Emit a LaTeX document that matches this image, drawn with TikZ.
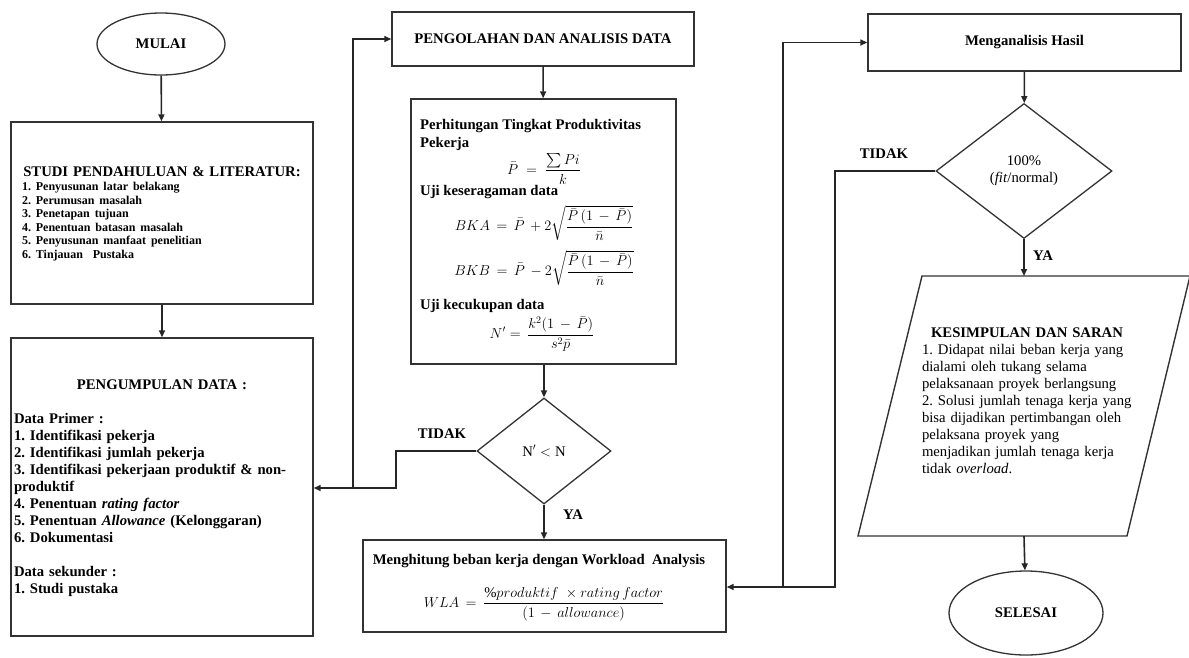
\documentclass[tikz,border=0pt]{standalone}
\usepackage{amsmath}
\usepackage{fontspec}
\setmainfont{Liberation Serif}
\usetikzlibrary{shapes.geometric,arrows.meta}
\frenchspacing
\newcommand\fA{\fontsize{14.7pt}{17pt}\selectfont}
\newcommand\fB{\fontsize{12pt}{13.6pt}\selectfont}
\tikzset{
  box/.style={draw=black!80, line width=1.4pt, rectangle, inner sep=0pt},
  oval/.style={draw=black!80, line width=1.3pt, ellipse, inner sep=0pt, font=\fA\bfseries},
  dia/.style={draw=black!80, line width=1.3pt, diamond, inner sep=0pt, font=\fA, align=center},
  txt/.style={inner sep=0pt, font=\fA},
  line/.style={draw=black!85, line width=1.6pt},
  arr/.style={line, -{Triangle[length=7pt,width=6pt]}},
  lbl/.style={inner sep=0pt, font=\fA\bfseries}
}
\begin{document}
\begin{tikzpicture}[x=1pt,y=-1pt]
\useasboundingbox (0,0) rectangle (1189,657);

% ---- left column
\node[oval, minimum width=128pt, minimum height=62pt] (mulai) at (161,44) {MULAI};
\node[box, minimum width=302pt, minimum height=182pt] (studi) at (162,213) {};
\node[txt, text width=280pt, align=left] (studitxt) at (162,214)
 {{\centering\bfseries STUDI PENDAHULUAN \& LITERATUR:\par}
  {\fB\bfseries 1. Penyusunan latar belakang\\
  2. Perumusan masalah\\
  3. Penetapan tujuan\\
  4. Penentuan batasan masalah\\
  5. Penyusunan manfaat penelitian\\
  6. Tinjauan\ \ Pustaka\par}};
\node[box, minimum width=302pt, minimum height=298pt] (kumpul) at (162,487) {};
\node[txt, text width=296pt, align=left, font=\fA\bfseries] (kumpultxt) at (162,488)
 {{\centering PENGUMPULAN DATA :\par}
  \mbox{}\\
  Data Primer :\\
  1. Identifikasi pekerja\\
  2. Identifikasi jumlah pekerja\\
  3. Identifikasi pekerjaan produktif \& non-\\
  produktif\\
  4. Penentuan \textit{rating factor}\\
  5. Penentuan \textit{Allowance} (Kelonggaran)\\
  6. Dokumentasi\\
  \mbox{}\\
  Data sekunder :\\
  1. Studi pustaka};

% ---- middle column
\node[box, minimum width=302pt, minimum height=54pt, font=\fA\bfseries] (olah) at (543,39) {PENGOLAHAN DAN ANALISIS DATA};
\node[box, minimum width=265pt, minimum height=265pt] (calc) at (543.5,231.5) {};
\node[txt, font=\fA\bfseries, anchor=base west] (c1) at (420,129) {Perhitungan Tingkat Produktivitas};
\node[txt, font=\fA\bfseries, anchor=base west] (c2) at (420,147) {Pekerja};
\node[txt] (f1) at (544,169) {$\displaystyle \bar P \;=\; \frac{\sum Pi}{k}$};
\node[txt, font=\fA\bfseries, anchor=base west] (c3) at (420,195) {Uji keseragaman data};
\node[txt] (f2) at (544,223) {$\displaystyle BKA \,=\, \bar P \,+2\sqrt{\frac{\bar P\,(1\,-\,\bar P)}{\bar n}}$};
\node[txt] (f3) at (544,268) {$\displaystyle BKB \,=\, \bar P \,-2\sqrt{\frac{\bar P\,(1\,-\,\bar P)}{\bar n}}$};
\node[txt, font=\fA\bfseries, anchor=base west] (c4) at (420,309) {Uji kecukupan data};
\node[txt] (f4) at (542,334) {$\displaystyle N' = \,\frac{k^2(1\,-\,\bar P)}{s^2\bar p}$};

\node[dia, minimum width=134pt, minimum height=106pt] (d1) at (544,451) {$\mathrm{N}' < \mathrm{N}$};
\node[lbl] (tidak1) at (442,434) {TIDAK};
\node[lbl] (ya1) at (573,515) {YA};

\node[box, minimum width=363pt, minimum height=92pt] (wla) at (544.5,586) {};
\node[txt, font=\fA\bfseries] (wlat) at (539,561) {Menghitung beban kerja\ dengan Workload\ \ Analysis};
\node[txt] (f5) at (544,604) {$\displaystyle WLA \,=\, \frac{\%produktif\;\times rating\,factor}{(1\,-\,allowance)}$};

% ---- right column
\node[box, minimum width=313pt, minimum height=57pt, font=\fA\bfseries] (hasil) at (1024.5,42.5) {Menganalisis Hasil};
\node[dia, minimum width=176pt, minimum height=135pt] (d2) at (1024,171) {100\%\\(\textit{fit}/normal)};
\node[lbl] (tidak2) at (884,154) {TIDAK};
\node[lbl] (ya2) at (1043,256) {YA};

\draw[box] (922,276) -- (1190,276) -- (1127,536) -- (858,536) -- cycle;
\coordinate (kstop) at (1024,276);
\coordinate (ksbot) at (1024,536);
\node[txt, text width=210pt, align=left] (kstxt) at (1027,401)
 {{\centering\bfseries KESIMPULAN DAN SARAN\par}
  1. Didapat nilai\ beban kerja yang\\
  dialami\ oleh tukang selama\\
  pelaksanaan proyek berlangsung\\
  2. Solusi jumlah tenaga kerja yang\\
  bisa dijadikan pertimbangan oleh\\
  pelaksana proyek yang\\
  menjadikan jumlah tenaga kerja\\
  tidak \textit{overload}.};

\node[oval, minimum width=154pt, minimum height=84pt] (selesai) at (1026,613) {SELESAI};

% ---- connectors
\draw[arr] (mulai) -- (studi);
\draw[arr] (studi) -- (kumpul);
\draw[arr] (olah) -- (calc);
\draw[arr] (calc.south -| d1.north) -- (d1.north);
\draw[arr] (d1.south) -- (d1.south |- wla.north);

\coordinate (j1) at (353,488);
\draw[arr] (d1.west) -- (396,451) -- (396,488) -- (kumpul.east |- j1);
\draw[arr] (j1) |- (olah.west);

\draw[arr] (hasil) -- (d2);
\draw[arr] (d2.south) -- (kstop);
\draw[arr] (ksbot) -- (selesai);

\coordinate (j2) at (783,587);
\draw[arr] (d2.west) -- (835,171) -- (835,587) -- (wla.east |- j2);
\draw[arr] (j2) |- (hasil.west);
\end{tikzpicture}
\end{document}
